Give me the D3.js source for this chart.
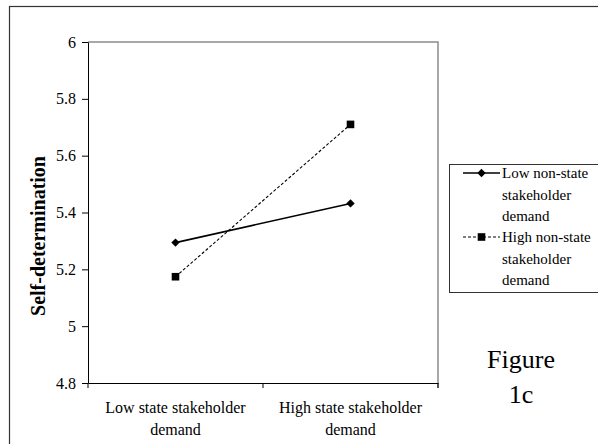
<!DOCTYPE html>
<html>
<head>
<meta charset="utf-8">
<script src="https://cdn.jsdelivr.net/npm/d3@7"></script>
</head>
<body style="margin:0;background:#fff">
<svg id="chart" width="598" height="444" style="display:block"></svg>
<script>
(function(){

  // data
  let categories = [['Low state stakeholder', 'demand'], ['High state stakeholder', 'demand']];
  let lowNonState = [5.294, 5.432];
  let highNonState = [5.174, 5.710];
  let yTicks = [4.8, 5, 5.2, 5.4, 5.6, 5.8, 6];
  let seriesNames = [['Low non-state', 'stakeholder', 'demand'], ['High non-state', 'stakeholder', 'demand']];

  let series = [
    {name: seriesNames[0], values: lowNonState, dash: null, marker: 'diamond'},
    {name: seriesNames[1], values: highNonState, dash: '3,2', marker: 'square'}
  ];

  let font = 'Liberation Serif';
  let svg = d3.select('#chart');
  let left = 88, top = 42, right = 438, bottom = 383;

  // outer frame
  svg.append('rect')
      .attr('x', 9.5).attr('y', 6.5)
      .attr('width', 620).attr('height', 460)
      .attr('fill', 'none')
      .attr('stroke', '#333')
      .attr('stroke-width', 1.2);

  let x = d3.scaleBand().domain(d3.range(categories.length)).range([left, right]);
  let y = d3.scaleLinear().domain([4.8, 6]).range([bottom, top]);

  // grey top / right frame of plot area
  svg.append('path')
      .attr('d', `M${left},${top}H${right}V${bottom + 5}`)
      .attr('fill', 'none')
      .attr('stroke', '#8c8c8c')
      .attr('stroke-width', 1.5);

  let yAxis = svg.append('g')
      .attr('transform', `translate(${left},0)`)
      .call(d3.axisLeft(y).tickValues(yTicks).tickSize(6).tickSizeOuter(0).tickFormat(d3.format('')));
  yAxis.attr('font-family', font).attr('font-size', 16);
  yAxis.select('.domain').attr('stroke', '#000');
  yAxis.selectAll('text')
      .attr('fill', '#000')
      .attr('x', -12);

  svg.append('g')
      .attr('transform', `translate(0,${bottom})`)
      .call(d3.axisBottom(x).tickSize(0).tickSizeOuter(0).tickFormat(''))
    .select('.domain').attr('stroke', '#000');

  // tick marks between categories
  svg.append('g').selectAll('line')
    .data(d3.range(categories.length + 1))
    .enter().append('line')
      .attr('x1', i => left + i * x.step())
      .attr('x2', i => left + i * x.step())
      .attr('y1', bottom)
      .attr('y2', bottom + 5)
      .attr('stroke', '#000');

  svg.append('g')
      .attr('font-family', font)
      .attr('font-size', 16)
      .attr('text-anchor', 'middle')
    .selectAll('text')
    .data(categories.flatMap((c, i) => c.map((t, j) => ({t, i, j}))))
    .enter().append('text')
      .attr('x', d => x(d.i) + x.bandwidth() / 2)
      .attr('y', d => 413 + d.j * 22)
      .text(d => d.t);

  svg.append('text')
      .attr('transform', 'translate(45,236) rotate(-90)')
      .attr('text-anchor', 'middle')
      .attr('font-family', font)
      .attr('font-weight', 'bold')
      .attr('font-size', 20)
      .text('Self-determination');

  let line = d3.line()
      .x((d, i) => x(i) + x.bandwidth() / 2)
      .y(d => y(d));

  let diamond = (cx, cy, r) => `M${cx},${cy - r}L${cx + r},${cy}L${cx},${cy + r}L${cx - r},${cy}Z`;
  let square = (cx, cy, r) => `M${cx - r},${cy - r}h${2 * r}v${2 * r}h${-2 * r}Z`;
  let markerPath = (m, cx, cy) => m === 'diamond' ? diamond(cx, cy, 4.2) : square(cx, cy, 3.8);

  series.forEach(s => {
    svg.append('path')
        .datum(s.values)
        .attr('d', line)
        .attr('fill', 'none')
        .attr('stroke', '#000')
        .attr('stroke-width', s.dash ? 1.1 : 1.6)
        .attr('stroke-dasharray', s.dash);
    svg.append('g').selectAll('path')
      .data(s.values)
      .enter().append('path')
        .attr('d', (d, i) => markerPath(s.marker, x(i) + x.bandwidth() / 2, y(d)))
        .attr('fill', '#000');
  });

  // legend
  let lg = svg.append('g');
  lg.append('rect')
      .attr('x', 449.5).attr('y', 164.5)
      .attr('width', 160).attr('height', 128)
      .attr('fill', '#fff')
      .attr('stroke', '#333');

  series.forEach((s, k) => {
    let cy = 173 + k * 64;
    lg.append('line')
        .attr('x1', 463).attr('x2', 500)
        .attr('y1', cy).attr('y2', cy)
        .attr('stroke', '#000')
        .attr('stroke-width', s.dash ? 1.1 : 1.6)
        .attr('stroke-dasharray', s.dash);
    lg.append('path')
        .attr('d', markerPath(s.marker, 481.5, cy))
        .attr('fill', '#000');
    lg.selectAll(null)
      .data(s.name)
      .enter().append('text')
        .attr('x', 502)
        .attr('y', (d, i) => cy + 5 + i * 21.5)
        .attr('font-family', font)
        .attr('font-size', 15)
        .text(d => d);
  });

  svg.selectAll(null)
    .data(['Figure', '1c'])
    .enter().append('text')
      .attr('x', 521)
      .attr('y', (d, i) => 368 + i * 35)
      .attr('font-family', font)
      .attr('font-size', 26)
      .attr('text-anchor', 'middle')
      .text(d => d);

})();
</script>
</body>
</html>
